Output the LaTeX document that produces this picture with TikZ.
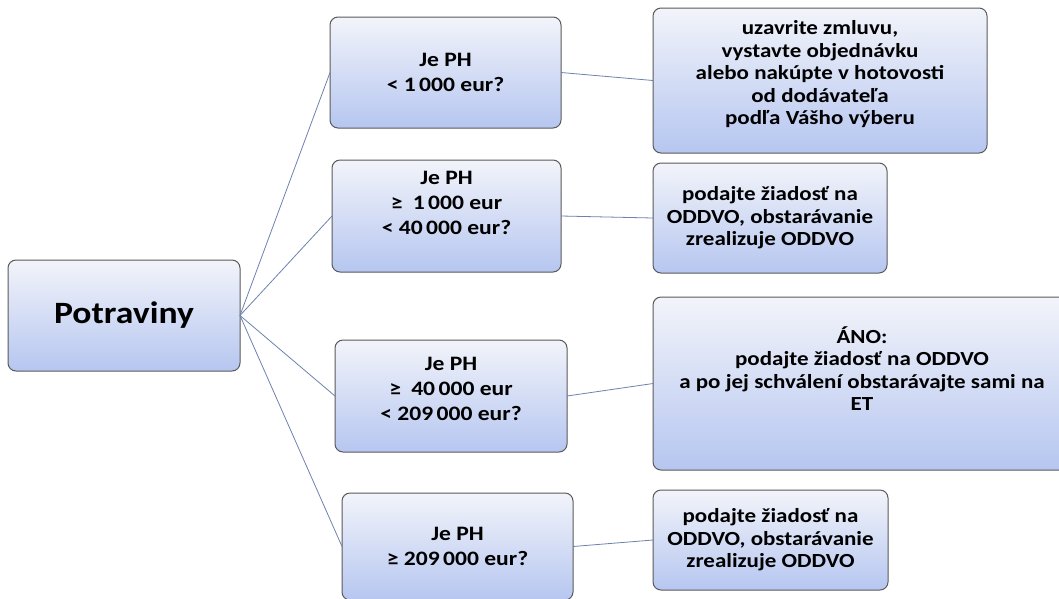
\documentclass[tikz,border=0pt]{standalone}
\usepackage{fontspec}
\setmainfont{Carlito}[FakeStretch=1.15]
\definecolor{boxtop}{RGB}{242,244,250}
\definecolor{boxbot}{RGB}{182,198,240}
\definecolor{boxline}{RGB}{90,90,90}
\definecolor{conn}{RGB}{110,130,175}
\tikzset{
  box/.style={draw=boxline, line width=1pt, rounded corners=8pt, top color=boxtop, bottom color=boxbot,
    inner sep=0pt, outer sep=0pt, align=center, font=\bfseries},
  qfont/.style={font=\fontsize{20.5}{25}\selectfont\bfseries},
  afont/.style={font=\fontsize{20}{22.5}\selectfont\bfseries},
  conline/.style={draw=conn, line width=0.8pt}
}
\begin{document}
\begin{tikzpicture}[x=1pt,y=-1pt]
\useasboundingbox[fill=white] (0,0) rectangle (1059,598);
\node[box, minimum width=232pt, minimum height=111pt, font=\fontsize{31}{35}\selectfont\bfseries] (p) at (124,315.5) {Potraviny};
\node[box, qfont, minimum width=231pt, minimum height=111pt] (m1) at (445.5,72.5) {Je PH\\< 1\,000 eur?};
\node[box, qfont, minimum width=229pt, minimum height=112pt, text depth=26pt] (m2) at (446.5,216) {Je PH\\≥\enspace 1\,000 eur\\< 40\,000 eur?};
\node[box, qfont, minimum width=232pt, minimum height=112pt, text depth=14pt] (m3) at (451,396) {Je PH\\≥\enspace 40\,000 eur\\< 209\,000 eur?};
\node[box, qfont, minimum width=231pt, minimum height=107pt] (m4) at (457.5,546.5) {Je PH\\≥ 209\,000 eur?};
\node[box, afont, minimum width=334pt, minimum height=145pt, text depth=16pt] (r1) at (820,80.5) {uzavrite zmluvu,\\vystavte objednávku\\alebo nakúpte v hotovosti\\od dodávateľa\\podľa Vášho výberu};
\node[box, afont, minimum width=234pt, minimum height=110pt] (r2) at (770,218) {podajte žiadosť na\\ODDVO, obstarávanie\\zrealizuje ODDVO};
\node[box, afont, minimum width=418pt, minimum height=173pt, text depth=30pt] (r3) at (862,383.5) {ÁNO:\\podajte žiadosť na ODDVO\\a po jej schválení obstarávajte sami na\\ET};
\node[box, afont, minimum width=235pt, minimum height=100pt] (r4) at (770.5,540) {podajte žiadosť na\\ODDVO, obstarávanie\\zrealizuje ODDVO};
\foreach \m in {m1,m2,m3,m4} \draw[conline] (p.east) -- (\m.west);
\draw[conline] (m1.east) -- (r1.west);
\draw[conline] (m2.east) -- (r2.west);
\draw[conline] (m3.east) -- (r3.west);
\draw[conline] (m4.east) -- (r4.west);
\end{tikzpicture}
\end{document}
